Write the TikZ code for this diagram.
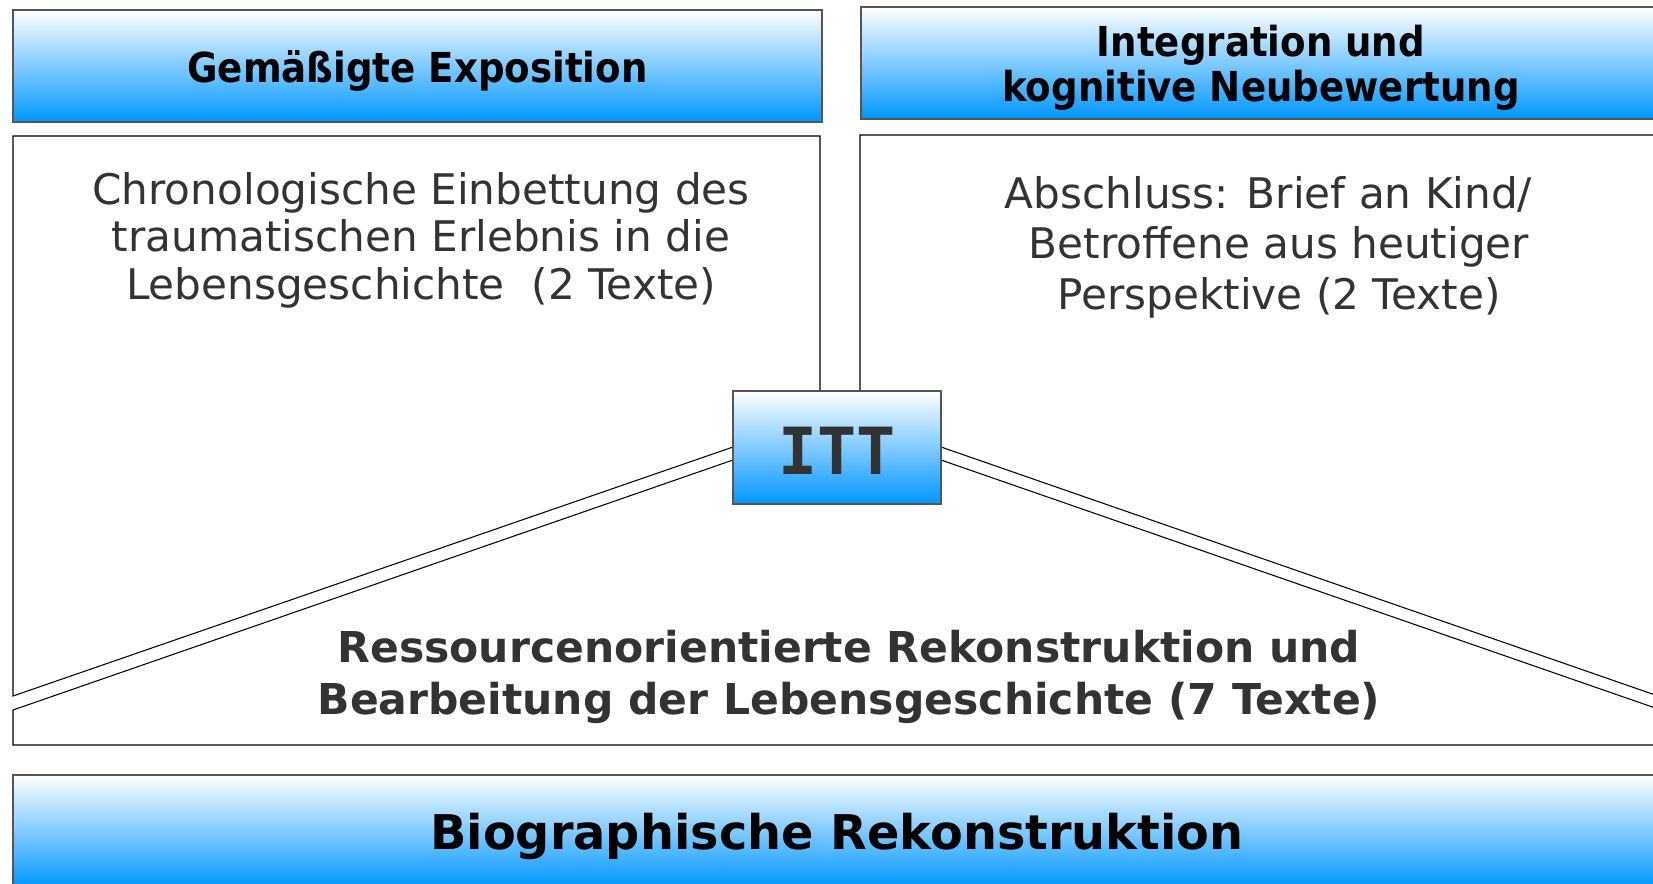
\documentclass[tikz,border=0pt]{standalone}
\usepackage{fontspec}
\setmainfont{DejaVu Sans}
\newfontfamily\condfont{DejaVu Sans Condensed}
\newfontfamily\slabfont{DejaVu Sans Mono}
\usetikzlibrary{positioning}
\definecolor{barblue}{RGB}{0,150,255}
\definecolor{inkgray}{RGB}{51,51,51}
\definecolor{rimgray}{RGB}{85,85,85}

\begin{document}
\begin{tikzpicture}[x=0.02cm,y=-0.02cm,
    bluebox/.style={draw=rimgray,line width=0.9pt,top color=white,bottom color=barblue,
        inner sep=0pt,align=center},
    panel/.style={draw=black,line width=0.6pt,fill=white},
    hdrtxt/.style={font=\condfont\bfseries\fontsize{23.5}{25.6}\selectfont,text=black},
    bodytxt/.style={font=\fontsize{24}{27}\selectfont,text=inkgray,align=center,inner sep=0pt},
    boldtxt/.style={font=\bfseries\fontsize{24.2}{30}\selectfont,text=inkgray,align=center,inner sep=0pt}]
    \useasboundingbox (0,0) rectangle (1653,883);
    \clip (0,0) rectangle (1653,883);
    % headers
    \node[bluebox,minimum width=16.18cm,minimum height=2.24cm] (expo) at (417.5,66) {};
    \node[hdrtxt] (expotxt) at (417.5,71) {Gemäßigte Exposition};
    \node[bluebox,minimum width=16cm,minimum height=2.24cm] (integ) at (1261,63) {};
    \node[hdrtxt,align=center] (integtxt) at (1261,68) {Integration und\\kognitive Neubewertung};
    % the three panels round the centre box
    \draw[panel] (13,136) -- (820,136) -- (820,447) -- (733,447) -- (13,696) -- cycle;
    \draw[panel] (860,135) -- (1661,135) -- (1661,697) -- (941,447) -- (860,447) -- cycle;
    \draw[panel] (13,710) -- (733,460) -- (941,460) -- (1661,710) -- (1661,745) -- (13,745) -- cycle;
    \node[bodytxt] (chron) at (421,240)
        {Chronologische Einbettung des\\traumatischen Erlebnis in die\\Lebensgeschichte\ \ (2 Texte)};
    \node[bodytxt,font=\fontsize{24}{28.8}\selectfont] (brief) at (1279,247)
        {Abschluss: Brief an Kind/\hspace*{12pt}\\Betroffene aus heutiger\\Perspektive (2 Texte)};
    \node[boldtxt] (ress) at (849,677)
        {Ressourcenorientierte Rekonstruktion und\\Bearbeitung der Lebensgeschichte (7 Texte)};
    \node[bluebox,minimum width=4.16cm,minimum height=2.26cm] (itt) at (837,447.5) {};
    \node[font=\slabfont\bfseries\fontsize{37}{44}\selectfont,text=inkgray] (itttxt) at (837,451) {ITT};
    % base bar
    \node[bluebox,minimum width=32.96cm,minimum height=2.24cm] (bio) at (837,831) {};
    \node[font=\bfseries\fontsize{27.2}{34}\selectfont,text=black] (biotxt) at (837,836)
        {Biographische Rekonstruktion};
\end{tikzpicture}
\end{document}
